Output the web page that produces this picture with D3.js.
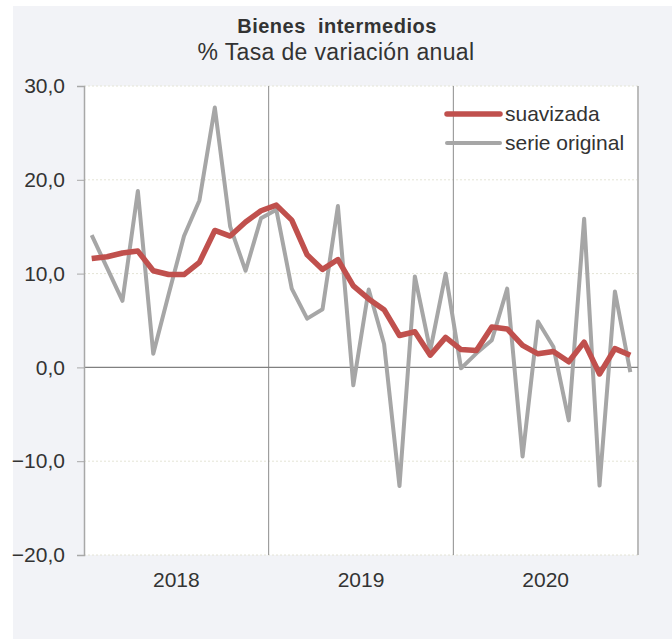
<!DOCTYPE html>
<html>
<head>
<meta charset="utf-8">
<script src="https://cdn.jsdelivr.net/npm/d3@7"></script>
<style>
  html, body { margin: 0; padding: 0; background: #ffffff; }
  svg { display: block; }
  text { font-family: "Liberation Sans", Arial, sans-serif; fill: #333; }
</style>
</head>
<body>
<svg id="chart" width="672" height="639"></svg>
<script>
const years = ["2018", "2019", "2020"];
const months = d3.range(36);
const suavizada = [11.6, 11.8, 12.2, 12.4, 10.3, 9.9, 9.9, 11.2, 14.6, 14.0, 15.5, 16.7,
                   17.3, 15.7, 12.0, 10.45, 11.5, 8.7, 7.3, 6.15, 3.4, 3.8, 1.3, 3.2,
                   1.9, 1.8, 4.3, 4.1, 2.35, 1.45, 1.7, 0.6, 2.7, -0.7, 2.0, 1.3];
const serieOriginal = [14.1, 10.6, 7.1, 18.8, 1.45, 7.8, 14.0, 17.8, 27.7, 15.0, 10.3, 15.9,
                       16.8, 8.4, 5.2, 6.2, 17.2, -1.9, 8.3, 2.5, -12.65, 9.7, 1.8, 10.0,
                       -0.1, 1.5, 2.9, 8.4, -9.5, 4.9, 2.2, -5.65, 15.85, -12.6, 8.1, -0.5];
const yTicks = [-20, -10, 0, 10, 20, 30];
const seriesNames = ["suavizada", "serie original"];

const svg = d3.select("#chart");
const W = 672, H = 639;
const m = { left: 84, right: 638, top: 86, bottom: 555 };

svg.append("rect").attr("x", 0).attr("y", 0).attr("width", W).attr("height", H).attr("fill", "#ffffff");
svg.append("rect").attr("x", 13).attr("y", 6).attr("width", W - 13).attr("height", H - 6).attr("fill", "#f2f3f7");
svg.append("rect").attr("x", m.left).attr("y", m.top).attr("width", m.right - m.left).attr("height", m.bottom - m.top).attr("fill", "#ffffff");

const x = d3.scaleBand().domain(months).range([m.left, m.right]).paddingInner(0).paddingOuter(0);
const xYear = d3.scaleBand().domain(years).range([m.left, m.right]);
const y = d3.scaleLinear().domain([-20, 30]).range([m.bottom, m.top]);
const cx = i => x(i) + x.bandwidth() / 2;

// gridlines
svg.append("g").selectAll("line").data(yTicks.filter(d => d !== 0)).join("line")
  .attr("x1", m.left).attr("x2", m.right)
  .attr("y1", d => y(d)).attr("y2", d => y(d))
  .attr("stroke", "#e4e4d6").attr("stroke-width", 1).attr("stroke-dasharray", "2,2");

// year separators
svg.append("g").selectAll("line").data(years.slice(1)).join("line")
  .attr("x1", d => xYear(d)).attr("x2", d => xYear(d))
  .attr("y1", m.top).attr("y2", m.bottom)
  .attr("stroke", "#8c8c8c").attr("stroke-width", 1);

// right border
svg.append("line").attr("x1", m.right).attr("x2", m.right).attr("y1", m.top).attr("y2", m.bottom)
  .attr("stroke", "#bcbcbc").attr("stroke-width", 2);

// zero line
svg.append("line").attr("x1", m.left).attr("x2", m.right).attr("y1", y(0)).attr("y2", y(0))
  .attr("stroke", "#808080").attr("stroke-width", 1.2);

// y axis
const yAxis = d3.axisLeft(y).tickValues(yTicks).tickSize(7).tickPadding(12)
  .tickFormat(d => d3.format(".1f")(d).replace(".", ","));
const gy = svg.append("g").attr("transform", `translate(${m.left},0)`).call(yAxis);
gy.select(".domain").attr("stroke", "#a8a8a8").attr("stroke-width", 1.5);
gy.selectAll(".tick line").attr("stroke", "#a8a8a8").attr("stroke-width", 1);
gy.selectAll(".tick text").attr("font-size", "21px").attr("fill", "#333")
  .attr("font-family", "Liberation Sans, Arial, sans-serif");

// x year labels
svg.append("g").selectAll("text").data(years).join("text")
  .attr("x", d => xYear(d) + xYear.bandwidth() / 2).attr("y", 587)
  .attr("text-anchor", "middle").attr("font-size", "21px").text(d => d);

// lines
const lineGen = d3.line().x((d, i) => cx(i)).y(d => y(d));
svg.append("path").datum(serieOriginal).attr("d", lineGen)
  .attr("fill", "none").attr("stroke", "#a6a6a6").attr("stroke-width", 4).attr("stroke-linejoin", "round");
svg.append("path").datum(suavizada).attr("d", lineGen)
  .attr("fill", "none").attr("stroke", "#c0504d").attr("stroke-width", 5.5).attr("stroke-linejoin", "round");

// legend
const legColors = ["#c0504d", "#a6a6a6"];
const legWidths = [5.5, 4];
const leg = svg.append("g");
seriesNames.forEach((name, i) => {
  const ly = 114 + i * 29;
  leg.append("line").attr("x1", 447).attr("x2", 500).attr("y1", ly).attr("y2", ly)
    .attr("stroke", legColors[i]).attr("stroke-width", legWidths[i]).attr("stroke-linecap", "round");
  leg.append("text").attr("x", 505).attr("y", ly + 7).attr("font-size", "21px").text(name);
});

// title
svg.append("text").attr("x", 337).attr("y", 33).attr("text-anchor", "middle")
  .attr("font-size", "20px").attr("font-weight", "bold").attr("letter-spacing", "0.5px")
  .style("white-space", "pre").text("Bienes  intermedios");
svg.append("text").attr("x", 336).attr("y", 60).attr("text-anchor", "middle")
  .attr("font-size", "23px").attr("letter-spacing", "0.35px").text("% Tasa de variación anual");
</script>
</body>
</html>
